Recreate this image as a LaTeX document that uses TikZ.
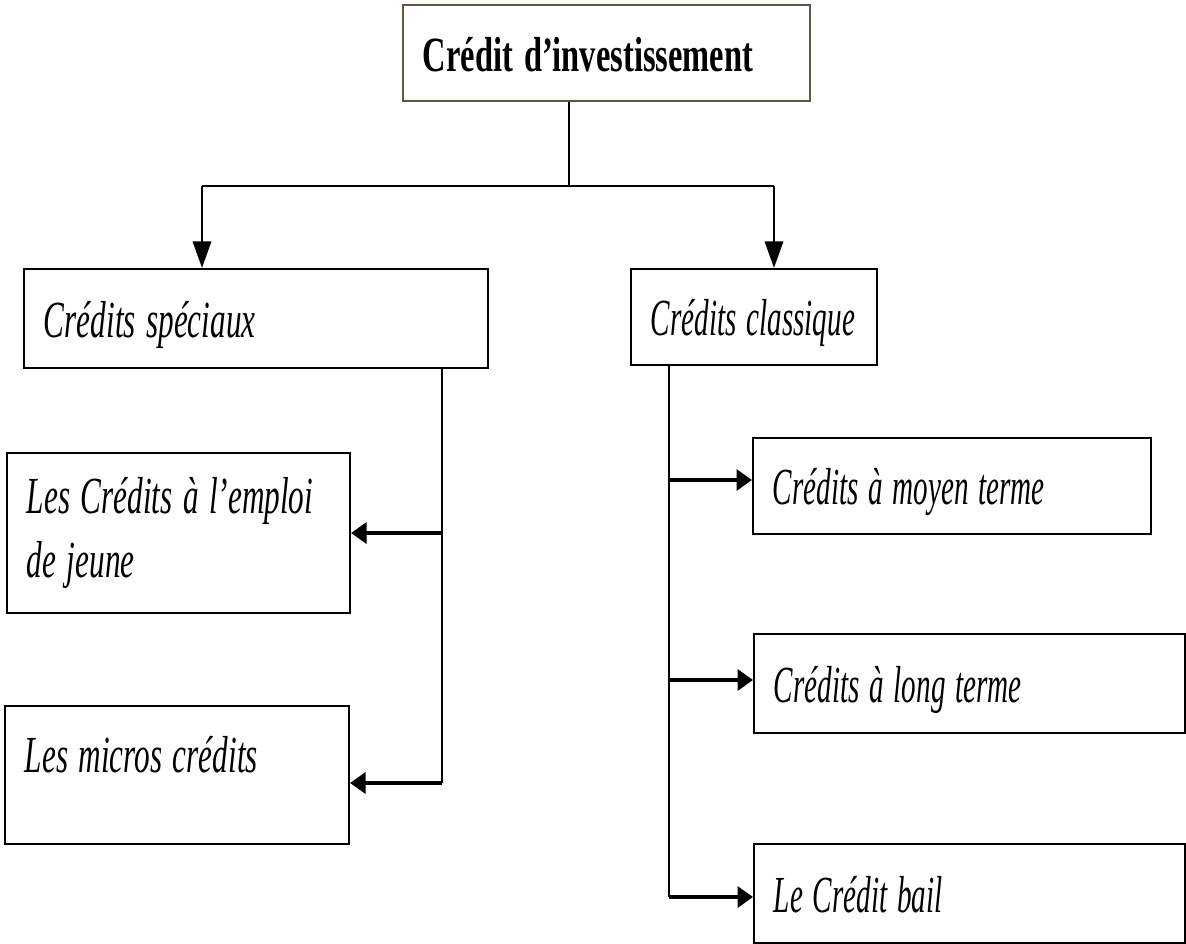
\documentclass[tikz,border=0pt]{standalone}
\usepackage{fontspec}
\usepackage{graphicx}
\setmainfont{Liberation Serif}
\usetikzlibrary{arrows.meta,positioning}
\definecolor{topline}{RGB}{92,88,66}
% condensed text, as in the scanned figure
\newcommand{\slim}[2][0.60]{\scalebox{#1}[1]{#2}}
\tikzset{
    %Define style for boxes
    box/.style={
           rectangle,
           draw=black, line width=1.4pt,
           anchor=north west,
           inner xsep=0.5cm,
           align=left,
           text height=27pt,
           text depth=0pt,
           font=\fontsize{37}{45.5}\selectfont\itshape},
    topbox/.style={
           box,
           draw=topline,
           font=\fontsize{35}{44}\selectfont\bfseries},
    % Define line styles
    link/.style={
           line width=1pt},
    down/.style={
           -{Triangle[length=19pt,width=13pt]},
           line width=2pt},
    side/.style={
           -{Triangle[length=11pt,width=15pt]},
           line width=2.2pt}
}
\begin{document}
\begin{tikzpicture}[x=0.025cm, y=-0.025cm]
    \useasboundingbox (0,0) rectangle (1186,943);
 %nodes
    \node[topbox, text width=9.175cm, minimum height=2.4cm] (credit) at (402,4) {\slim[0.66]{Crédit d’investissement}};
    \node[box, text width=10.6cm, minimum height=2.475cm] (spec) at (23,268) {\slim{Crédits spéciaux}};
    \node[box, text width=5.15cm, minimum height=2.4cm] (clas) at (630,268) {\slim[0.56]{Crédits classique}};
    \node[box, text width=7.575cm, minimum height=4cm, text height=, text depth=] (emploi) at (6,452) {\slim{Les Crédits à l’emploi}\\\slim{de jeune}};
    \node[box, text width=7.6cm, minimum height=3.45cm, text depth=30pt] (micro) at (4,705) {\slim{Les micros crédits}};
    \node[box, text width=8.95cm, minimum height=2.4cm] (moyen) at (752,437) {\slim[0.56]{Crédits à moyen terme}};
    \node[box, text width=9.775cm, minimum height=2.475cm] (long) at (753,633) {\slim[0.56]{Crédits à long terme}};
    \node[box, text width=9.775cm, minimum height=2.475cm] (bail) at (753,843) {\slim[0.56]{Le Crédit bail}};
 %junctions
    \coordinate (split) at (569,186);
    \coordinate (hl) at (202,186);
    \coordinate (hr) at (774,186);
    \coordinate (lv) at (442,783);
    \coordinate (rm) at (669,480);
    \coordinate (rl) at (669,680);
    \coordinate (rv) at (669,897);
 %edges
    \draw[link] (split |- credit.south) -- (split);
    \draw[link] (hl) -- (hr);
    \draw[down] (hl) -- (hl |- spec.north);
    \draw[down] (hr) -- (hr |- clas.north);
    \draw[link] (lv |- spec.south) -- (lv);
    \draw[side] (lv |- emploi.east) -- (emploi.east);
    \draw[side] (lv) -- (lv -| micro.east);
    \draw[link] (rv |- clas.south) -- (rv);
    \draw[side] (rm) -- (rm -| moyen.west);
    \draw[side] (rl) -- (rl -| long.west);
    \draw[side] (rv) -- (rv -| bail.west);
\end{tikzpicture}
\end{document}
